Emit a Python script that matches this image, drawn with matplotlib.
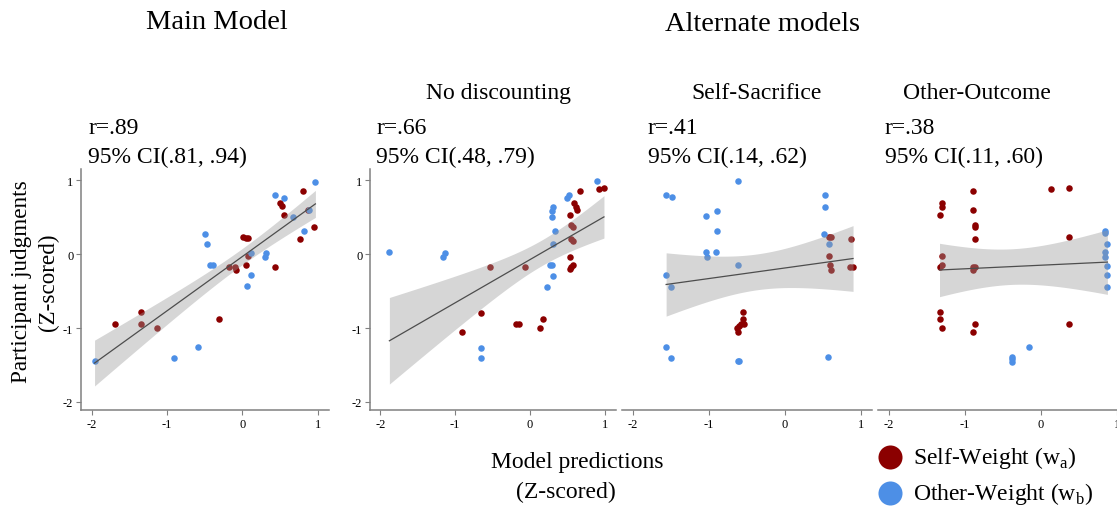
import numpy as np
import matplotlib
matplotlib.use("Agg")
import matplotlib.pyplot as plt

plt.rcParams['font.family'] = ['Liberation Serif', 'DejaVu Serif']
plt.rcParams['mathtext.fontset'] = 'custom'
plt.rcParams['mathtext.rm'] = 'Liberation Serif'
plt.rcParams['axes.unicode_minus'] = False

RED = "#8b0000"
BLUE = "#4d8fe6"

# Main model (model prediction, participant judgment)
main_self_x = [-1.69, -1.34, -1.35, -1.13, -0.31, -0.17, -0.09, -0.08, 0.01, 0.05, 0.08,
               0.05, 0.08, 0.43, 0.50, 0.53, 0.56, 0.77, 0.81, 0.87, 0.95]
main_self_y = [-0.95, -0.79, -0.95, -1.00, -0.88, -0.17, -0.17, -0.21, 0.23, 0.22, 0.22,
               -0.15, -0.03, -0.17, 0.69, 0.65, 0.53, 0.20, 0.86, 0.60, 0.37]
main_other_x = [-1.96, -0.91, -0.59, -0.50, -0.47, -0.43, -0.39, 0.06, 0.11, 0.12, 0.30,
                0.31, 0.44, 0.55, 0.67, 0.82, 0.89, 0.97]
main_other_y = [-1.45, -1.40, -1.26, 0.27, 0.14, -0.15, -0.15, -0.43, -0.28, 0.02, -0.04,
                0.02, 0.80, 0.76, 0.50, 0.31, 0.59, 0.98]

# No discounting
nod_self_x = [-0.91, -0.65, -0.54, -0.06, -0.18, -0.14, 0.13, 0.18, 0.54, 0.54, 0.54, 0.55,
              0.58, 0.55, 0.58, 0.55, 0.57, 0.59, 0.61, 0.63, 0.67, 0.93, 0.99]
nod_self_y = [-1.05, -0.80, -0.17, -0.17, -0.95, -0.95, -1.00, -0.88, 0.53, -0.04, -0.20, -0.17,
              -0.15, 0.39, 0.36, 0.21, 0.18, 0.69, 0.64, 0.59, 0.85, 0.88, 0.90]
nod_other_x = [-1.88, -1.16, -1.14, -0.65, -0.65, 0.23, 0.27, 0.30, 0.31, 0.31, 0.34,
               0.29, 0.31, 0.30, 0.50, 0.52, 0.90]
nod_other_y = [0.03, -0.04, 0.02, -1.27, -1.41, -0.44, -0.15, -0.15, -0.29, 0.14, 0.31,
               0.58, 0.64, 0.50, 0.76, 0.80, 0.99]

# Self-Sacrifice
ss_self_x = [-0.55, -0.55, -0.54, -0.58, -0.63, -0.62, -0.60, 0.58, 0.61, 0.59, 0.60, 0.61,
             0.87, 0.86, 0.90]
ss_self_y = [-0.79, -0.88, -0.95, -0.95, -1.00, -1.05, -0.97, 0.23, 0.23, -0.03, -0.15, -0.21,
             0.20, -0.17, -0.17]
ss_other_x = [-1.56, -1.48, -1.56, -1.49, -1.56, -1.49, -1.04, -0.89, -0.89, -1.04, -0.91,
              -1.02, -0.62, -0.62, -0.61, -0.60, 0.53, 0.53, 0.52, 0.59, 0.57]
ss_other_y = [0.80, 0.77, -0.28, -0.44, -1.26, -1.41, 0.51, 0.58, 0.31, 0.03, 0.03,
              -0.04, 0.99, -0.15, -1.44, -1.45, 0.80, 0.64, 0.27, 0.14, -1.39]

# Other-Outcome
oo_self_x = [-0.89, -0.89, -0.86, -0.86, -0.86, -1.30, -1.30, -1.33, -1.30, -1.30, -1.33,
             -0.89, -0.86, -0.89, -1.33, -1.33, -1.30, -0.86, -0.89, 0.14, 0.37, 0.37, 0.37]
oo_self_y = [0.85, 0.59, 0.39, 0.37, 0.20, 0.69, 0.64, 0.53, -0.03, -0.15, -0.17,
             -0.17, -0.17, -0.21, -0.79, -0.88, -1.00, -0.95, -1.05, 0.88, 0.90, 0.23, -0.95]
oo_other_x = [0.85, 0.85, 0.88, 0.85, 0.85, 0.88, 0.88, 0.88, -0.15, -0.38, -0.38, -0.38]
oo_other_y = [0.31, 0.28, 0.14, 0.03, -0.04, -0.16, -0.28, -0.44, -1.26, -1.39, -1.42, -1.46]

subtitles = ["", "No discounting", "Self-Sacrifice", "Other-Outcome"]
r_labels = ["r=.89", "r=.66", "r=.41", "r=.38"]
ci_labels = ["95% CI(.81, .94)", "95% CI(.48, .79)", "95% CI(.14, .62)", "95% CI(.11, .60)"]
series = [(main_self_x, main_self_y, main_other_x, main_other_y),
          (nod_self_x, nod_self_y, nod_other_x, nod_other_y),
          (ss_self_x, ss_self_y, ss_other_x, ss_other_y),
          (oo_self_x, oo_self_y, oo_other_x, oo_other_y)]

fig = plt.figure(figsize=(11.17, 5.10), dpi=100)

# axes rectangles in figure fraction
rects = [[0.0725, 0.194, 0.222, 0.4725],
         [0.3312, 0.194, 0.2202, 0.4725],
         [0.5569, 0.194, 0.2238, 0.4725],
         [0.7860, 0.194, 0.2238, 0.4725]]
sub_x = [None, 0.446, 0.677, 0.875]
r_x = [0.079, 0.337, 0.580, 0.792]

for i, (sx, sy, ox, oy) in enumerate(series):
    ax = fig.add_axes(rects[i])
    ax.scatter(sx, sy, s=22, color=RED, linewidths=0, zorder=2)
    ax.scatter(ox, oy, s=22, color=BLUE, linewidths=0, zorder=2)

    # linear fit with 95% band, drawn over the points
    x = np.array(sx + ox)
    y = np.array(sy + oy)
    n = len(x)
    b, a = np.polyfit(x, y, 1)
    xs = np.linspace(x.min(), x.max(), 100)
    resid = y - (a + b * x)
    s = np.sqrt(np.sum(resid ** 2) / (n - 2))
    se = s * np.sqrt(1 / n + (xs - x.mean()) ** 2 / np.sum((x - x.mean()) ** 2))
    t = 2.0
    ax.fill_between(xs, a + b * xs - t * se, a + b * xs + t * se,
                    color="#999999", alpha=0.4, linewidth=0, zorder=3)
    ax.plot(xs, a + b * xs, color="#4d4d4d", linewidth=0.9, zorder=4)

    ax.set_xlim(-2.14, 1.15)
    ax.set_ylim(-2.11, 1.15)
    ax.set_xticks([-2, -1, 0, 1])
    ax.set_yticks([-2, -1, 0, 1])
    for side in ["top", "right"]:
        ax.spines[side].set_visible(False)
    for side in ["left", "bottom"]:
        ax.spines[side].set_color("#808080")
        ax.spines[side].set_linewidth(1.1)
    ax.tick_params(length=3.5, width=0.8, color="#808080", labelsize=9, pad=2)
    if i >= 2:
        ax.spines["left"].set_visible(False)
        ax.tick_params(axis="y", left=False, labelleft=False)

    if subtitles[i]:
        fig.text(sub_x[i], 0.817, subtitles[i], ha="center", va="center", fontsize=17)
    fig.text(r_x[i], 0.749, r_labels[i], ha="left", va="center", fontsize=17)
    fig.text(r_x[i], 0.692, ci_labels[i], ha="left", va="center", fontsize=17)

fig.text(0.194, 0.955, "Main Model", ha="center", va="center", fontsize=20.5)
fig.text(0.683, 0.952, "Alternate models", ha="center", va="center", fontsize=20.5)

fig.text(0.019, 0.447, "Participant judgments", ha="center", va="center",
         rotation=90, fontsize=16.7)
fig.text(0.043, 0.447, "(Z-scored)", ha="center", va="center",
         rotation=90, fontsize=16.7)
fig.text(0.517, 0.093, "Model predictions", ha="center", va="center", fontsize=17)
fig.text(0.507, 0.035, "(Z-scored)", ha="center", va="center", fontsize=17)

# legend
leg_ax = fig.add_axes([0.77, 0.0, 0.23, 0.19])
leg_ax.set_axis_off()
leg_ax.set_xlim(0, 1)
leg_ax.set_ylim(0, 1)
leg_ax.scatter([0.117], [0.54], s=300, color=RED, linewidths=0)
leg_ax.scatter([0.117], [0.165], s=300, color=BLUE, linewidths=0)
leg_ax.text(0.205, 0.54, r"Self-Weight (w$_\mathregular{a}$)", va="center", fontsize=17)
leg_ax.text(0.205, 0.165, r"Other-Weight (w$_\mathregular{b}$)", va="center", fontsize=17)

fig.savefig("out.png", dpi=100)
